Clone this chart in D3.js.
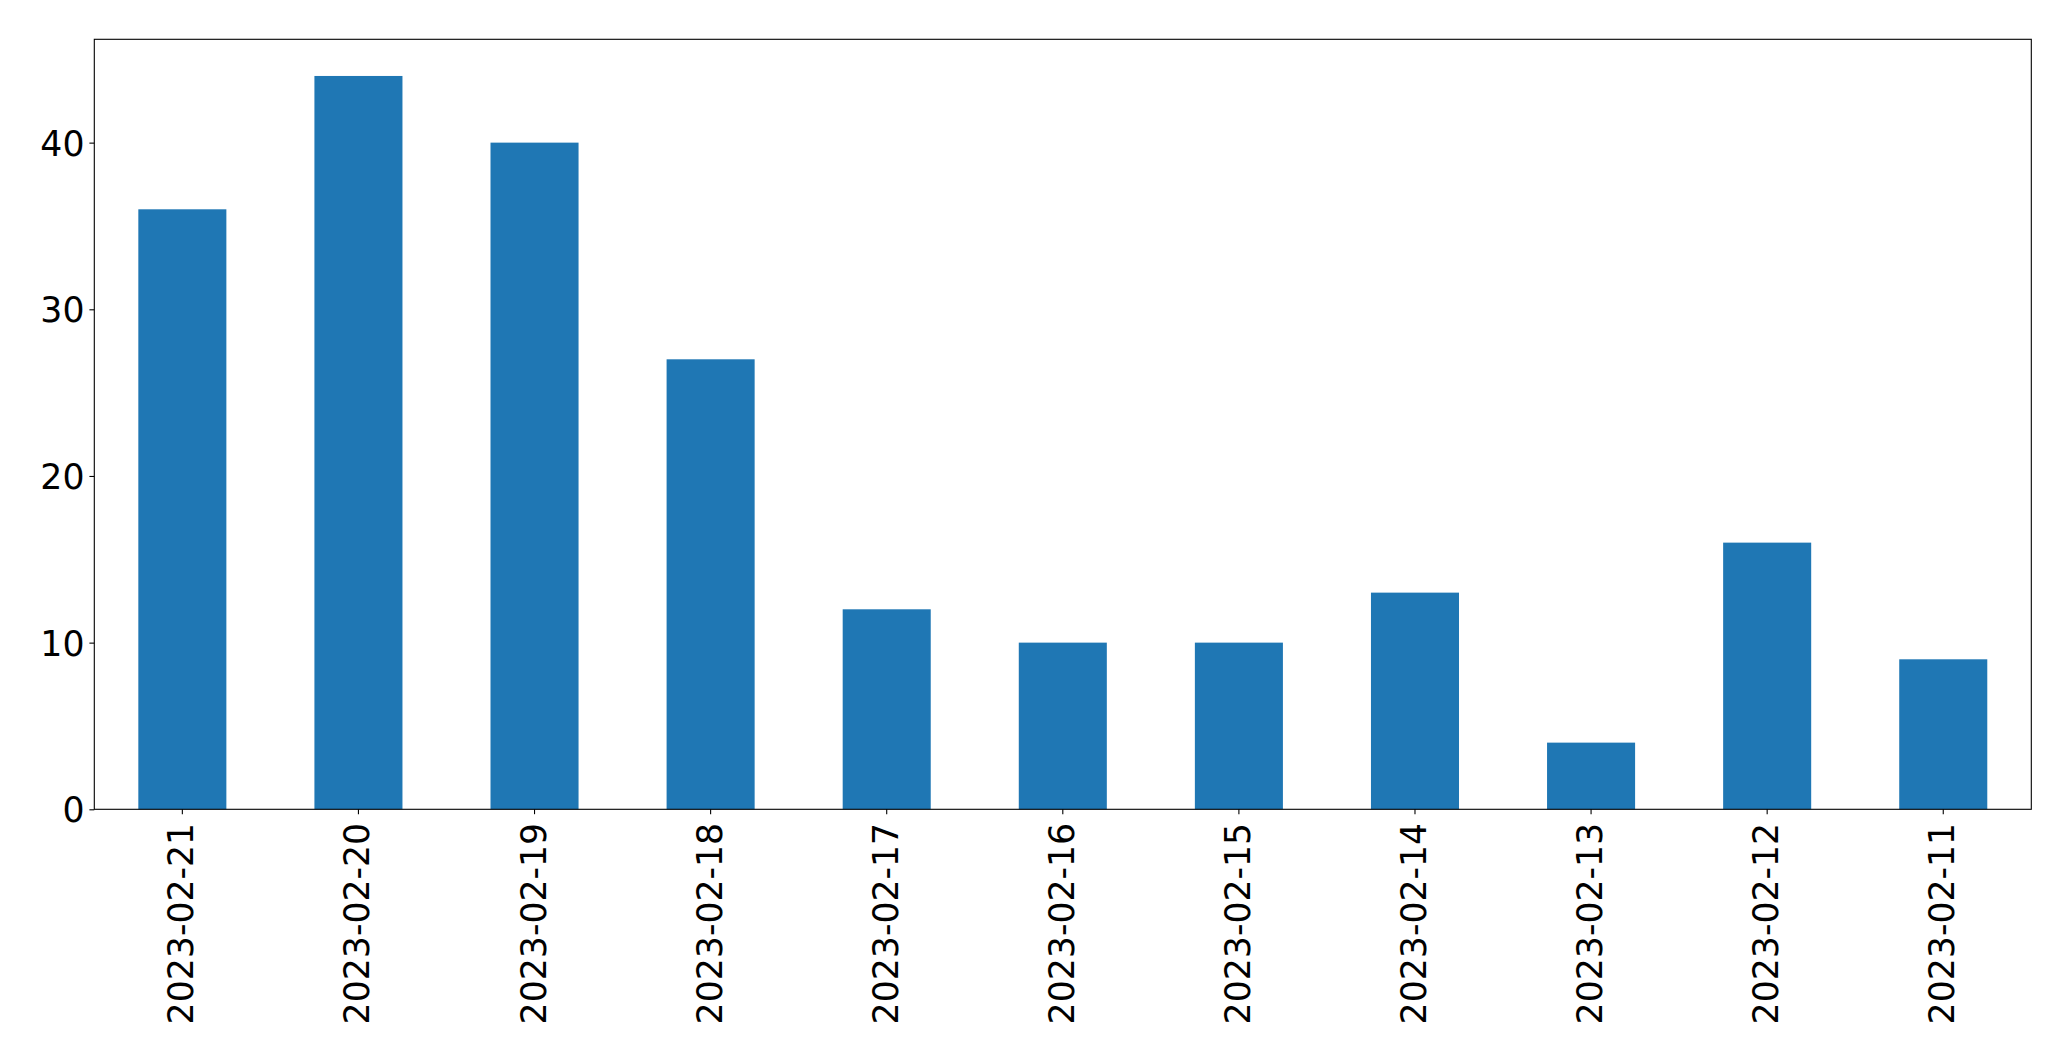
<!DOCTYPE html>
<html><head><meta charset="utf-8">
<script src="https://cdn.jsdelivr.net/npm/d3@7"></script>
<style>html,body{margin:0;padding:0;background:#fff;}svg{display:block;}</style>
</head><body>
<script>
const categories = ["2023-02-21","2023-02-20","2023-02-19","2023-02-18","2023-02-17","2023-02-16","2023-02-15","2023-02-14","2023-02-13","2023-02-12","2023-02-11"];
const values = [36,44,40,27,12,10,10,13,4,16,9];
const yTicks = [0,10,20,30,40];

const W = 2071, H = 1061;
const m = {left:94.3, top:39.3, right:2031.3, bottom:809.3};
const svg = d3.select("body").append("svg").attr("width",W).attr("height",H);

const x = d3.scaleBand().domain(categories).range([m.left,m.right]).paddingInner(0.5).paddingOuter(0.25);
const yMax = d3.max(values)*1.05;
const y = d3.scaleLinear().domain([0,yMax]).range([m.bottom,m.top]);

svg.append("g").selectAll("rect").data(values).join("rect")
  .attr("x",(d,i)=>x(categories[i]))
  .attr("width",x.bandwidth())
  .attr("y",d=>y(d))
  .attr("height",d=>y(0)-y(d))
  .attr("fill","#1f77b4");

const font = "DejaVu Sans";
const fs = 34.7;
const yAxis = svg.append("g").attr("transform",`translate(${m.left},0)`)
  .call(d3.axisLeft(y).tickValues(yTicks).tickSize(4.9).tickPadding(4.9).tickFormat(d3.format("d")));
yAxis.select(".domain").remove();
yAxis.selectAll("line").attr("stroke","#000").attr("stroke-width",1.1);
yAxis.selectAll("text").attr("font-family",font).attr("font-size",fs).attr("fill","#000").attr("dy","0.36em");

const xAxis = svg.append("g").attr("transform",`translate(0,${m.bottom})`)
  .call(d3.axisBottom(x).tickSize(4.9).tickPadding(0));
xAxis.select(".domain").remove();
xAxis.selectAll("line").attr("stroke","#000").attr("stroke-width",1.1);
xAxis.selectAll("text").attr("font-family",font).attr("font-size",fs).attr("fill","#000")
  .attr("text-anchor","end").attr("dy",null).attr("y",null)
  .attr("transform","translate(-1,13.5) rotate(-90)").attr("dominant-baseline","central").attr("x",0);

svg.append("rect").attr("x",m.left).attr("y",m.top).attr("width",m.right-m.left).attr("height",m.bottom-m.top)
  .attr("fill","none").attr("stroke","#000").attr("stroke-width",1.1);
</script>
</body></html>
